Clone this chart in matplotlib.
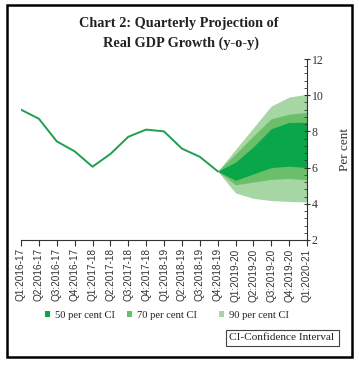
import matplotlib
matplotlib.use("Agg")
import matplotlib.pyplot as plt
from matplotlib.patches import Patch, Rectangle
import numpy as np

quarters = ["Q1:2016-17", "Q2:2016-17", "Q3:2016-17", "Q4:2016-17",
            "Q1:2017-18", "Q2:2017-18", "Q3:2017-18", "Q4:2017-18",
            "Q1:2018-19", "Q2:2018-19", "Q3:2018-19", "Q4:2018-19",
            "Q1:2019-20", "Q2:2019-20", "Q3:2019-20", "Q4:2019-20",
            "Q1:2020-21"]
actual = [9.2, 8.7, 7.45, 6.9, 6.05, 6.75, 7.7, 8.1, 8.0, 7.05, 6.6, 5.8]
# projection from Q4:2018-19 to Q1:2020-21
ci90_hi = [5.8, 7.0, 8.2, 9.4, 9.9, 10.05]
ci70_hi = [5.8, 6.75, 7.75, 8.7, 8.95, 9.05]
ci50_hi = [5.8, 6.3, 7.15, 8.15, 8.5, 8.5]
ci50_lo = [5.8, 5.3, 5.65, 6.0, 6.08, 6.0]
ci70_lo = [5.8, 5.05, 5.2, 5.35, 5.4, 5.32]
ci90_lo = [5.8, 4.6, 4.3, 4.18, 4.13, 4.1]
ci_labels = ["50 per cent CI", "70 per cent CI", "90 per cent CI"]

c50 = "#0aa64a"
c70 = "#6cbf6a"
c90 = "#a6d6a4"
cline = "#1f9e50"

serif = ["Liberation Serif", "DejaVu Serif"]
plt.rcParams["font.family"] = serif

W, H = 359, 366
fig = plt.figure(figsize=(W / 100, H / 100), dpi=100)

# outer border
fig.patches.append(Rectangle((7 / W, 1 - 357 / H), (352 - 7) / W, (357 - 5) / H,
                             transform=fig.transFigure, fill=False,
                             edgecolor="black", linewidth=1.8))

ax = fig.add_axes([21 / W, 1 - 240 / H, (307 - 21) / W, (240 - 59) / H])

x_act = np.arange(len(actual))
x_proj = np.arange(len(actual) - 1, len(quarters))

ax.fill_between(x_proj, ci90_lo, ci90_hi, color=c90, linewidth=0)
ax.fill_between(x_proj, ci70_lo, ci70_hi, color=c70, linewidth=0)
ax.fill_between(x_proj, ci50_lo, ci50_hi, color=c50, linewidth=0)
ax.plot(x_act, actual, color=cline, linewidth=1.4)

ax.set_xlim(0, len(quarters) - 1)
ax.set_ylim(2, 12)
ax.set_xticks(range(len(quarters)))
ax.set_xticklabels(quarters, rotation=90, fontsize=7.2, color="#333333",
                   family=["Liberation Sans", "DejaVu Sans"])
ax.yaxis.tick_right()
ax.yaxis.set_label_position("right")
ax.set_yticks([2, 4, 6, 8, 10, 12])
ax.set_yticks(np.arange(2, 12.01, 0.4), minor=True)
ax.tick_params(axis="y", which="major", direction="inout", length=5, width=0.8,
               labelsize=8.5, pad=1, colors="#333333")
ax.tick_params(axis="y", which="minor", direction="in", length=2.5, width=0.6,
               colors="#333333")
ax.tick_params(axis="x", direction="out", length=4, width=0.8, pad=2,
               colors="#333333")
ax.set_ylabel("Per cent", fontsize=9.5, labelpad=11, color="#333333")
for s in ["top", "left"]:
    ax.spines[s].set_visible(False)
for s in ["bottom", "right"]:
    ax.spines[s].set_color("#333333")
    ax.spines[s].set_linewidth(0.8)

fig.text(179 / W, 1 - 23 / H, "Chart 2: Quarterly Projection of",
         ha="center", va="center", fontsize=10.3, fontweight="bold", color="#222222")
fig.text(181 / W, 1 - 43 / H, "Real GDP Growth (y-o-y)",
         ha="center", va="center", fontsize=10.3, fontweight="bold", color="#222222")

for col, lab, xl in zip([c50, c70, c90], ci_labels, [44.5, 126.5, 218.5]):
    fig.legend(handles=[Patch(facecolor=col, edgecolor="none", label=lab)],
               loc="center left", bbox_to_anchor=(xl / W, 1 - 315 / H),
               frameon=False, fontsize=7.6, handlelength=0.55,
               handleheight=0.55, handletextpad=0.45, borderpad=0,
               borderaxespad=0, labelcolor="#222222")

fig.text(282 / W, 1 - 338 / H, "CI-Confidence Interval", ha="center", va="center",
         fontsize=8.1, color="#222222",
         bbox=dict(boxstyle="square,pad=0.35", facecolor="white",
                   edgecolor="#444444", linewidth=0.8))

fig.savefig("out.png", dpi=100)
